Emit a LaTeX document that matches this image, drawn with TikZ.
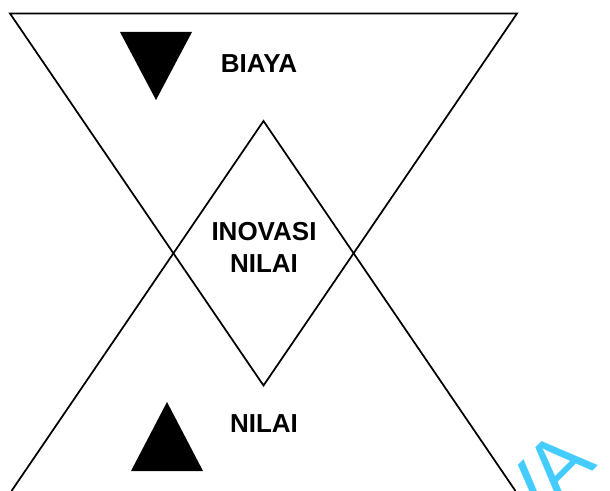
\documentclass[tikz,border=0pt]{standalone}
\usepackage{fontspec}
\setmainfont{Liberation Sans}
\definecolor{wm}{RGB}{69,204,255}
\begin{document}
\begin{tikzpicture}[x=0.75pt,y=-0.75pt,
  edge/.style={line width=1.3pt,line join=miter},
  lbl/.style={font=\bfseries\fontsize{19.5}{24}\selectfont,align=center,inner sep=0pt},
  wmtext/.style={text=wm,font=\fontsize{62}{62}\selectfont,rotate=45,inner sep=0pt}]
\useasboundingbox (0,0) rectangle (610,491);
% vertices
\coordinate (dTL) at (10,13.5);
\coordinate (dTR) at (517,13.5);
\coordinate (dB) at (263.5,385.5);
\coordinate (uT) at (263.5,121);
\coordinate (uBL) at (11.5,491);
\coordinate (uBR) at (515.5,491);
% big triangles
\draw[edge] (dTL) -- (dTR) -- (dB) -- cycle;
\draw[edge] (uBL) -- (uT) -- (uBR);
% black markers
\fill (120,32) -- (192,32) -- (156,100) -- cycle;
\fill (167,402) -- (131,471) -- (203,471) -- cycle;
% labels
\node[lbl] (biaya) at (259,63.5) {BIAYA};
\node[lbl] (inov) at (264,247) {INOVASI\\NILAI};
\node[lbl] (nilai) at (264,424) {NILAI};
% watermark fragment
\begin{scope}
\clip (0,0) rectangle (610,491);
\node[wmtext] (wm) at (542,482) {VA};
\end{scope}
\end{tikzpicture}
\end{document}
